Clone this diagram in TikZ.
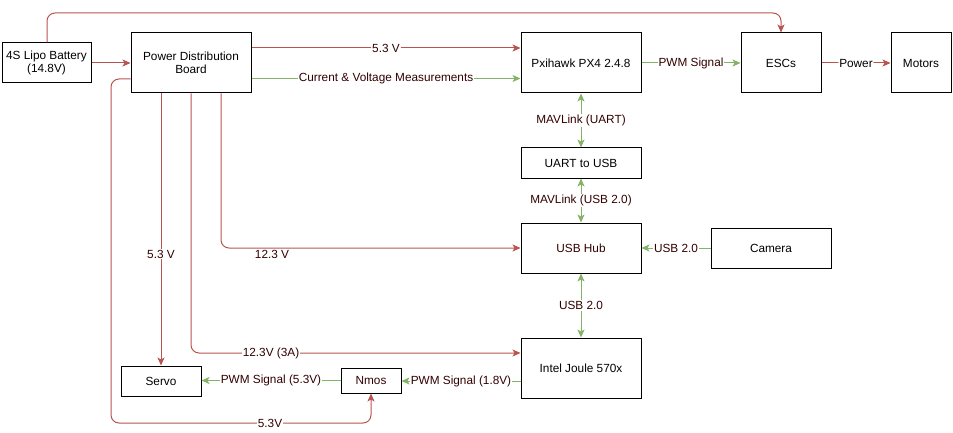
\documentclass[tikz,border=0pt]{standalone}
\usepackage{fontspec}
\setmainfont{Liberation Sans}
\usetikzlibrary{arrows.meta}
\definecolor{pred}{HTML}{B85450}
\definecolor{pgreen}{HTML}{82B366}
\definecolor{ltxt}{HTML}{330000}
\tikzset{
  box/.style={draw=black, line width=1pt, fill=white, minimum width=#1, align=center, inner sep=0pt, font=\fontsize{11.8}{13.5}\selectfont},
  redarr/.style={draw=pred, line width=1pt, rounded corners=8pt, -{Stealth[length=8pt,width=7pt,inset=2pt]}},
  greenarr/.style={draw=pgreen, line width=1pt, -{Stealth[length=8pt,width=7pt,inset=2pt]}},
  greendbl/.style={draw=pgreen, line width=1pt, {Stealth[length=8pt,width=7pt,inset=2pt]}-{Stealth[length=8pt,width=7pt,inset=2pt]}},
  lbl/.style={fill=white, text=ltxt, inner sep=1pt, font=\fontsize{11.8}{13.5}\selectfont}
}
\begin{document}
\begin{tikzpicture}[x=1pt,y=-1pt]
\useasboundingbox (0,0) rectangle (953,433);
% nodes
\node[box=89pt, minimum height=40pt] (bat) at (46.5,63) {4S Lipo Battery\\(14.8V)};
\node[box=120pt, minimum height=60pt] (pdb) at (191,63) {Power Distribution\\Board};
\node[box=120pt, minimum height=60pt] (px) at (581,63) {Pxihawk PX4 2.4.8};
\node[box=80pt, minimum height=60pt] (esc) at (781,63) {ESCs};
\node[box=60pt, minimum height=60pt] (mot) at (921,63) {Motors};
\node[box=120pt, minimum height=30pt] (uart) at (581,163) {UART to USB};
\node[box=120pt, minimum height=50pt, text=ltxt] (hub) at (581,248) {USB Hub};
\node[box=120pt, minimum height=40pt] (cam) at (771,248) {Camera};
\node[box=120pt, minimum height=60pt] (joule) at (581,368) {Intel Joule 570x};
\node[box=80pt, minimum height=30pt] (servo) at (161,381) {Servo};
\node[box=60pt, minimum height=25pt, text=ltxt] (nmos) at (371,380.5) {Nmos};
% connectors
\coordinate (bt1) at (47,13);
\coordinate (bt2) at (781,13);
\draw[redarr] ([xshift=0.5pt]bat.north) -- (bt1) -- (bt2) -- (esc.north);
\draw[redarr] (bat.east) -- (pdb.west);
\draw[redarr] ([yshift=15pt]pdb.east) -- node[lbl]{5.3 V} ([yshift=15pt]px.west);
\draw[greenarr] ([yshift=-15.5pt]pdb.east) -- node[lbl]{Current \& Voltage Measurements} ([yshift=-15.5pt]px.west);
\draw[greenarr] (px.east) -- node[lbl]{PWM Signal} (esc.west);
\draw[redarr] (esc.east) -- node[lbl, text=black]{Power} (mot.west);
\draw[greendbl] (px.south) -- node[lbl]{MAVLink (UART)} (uart.north);
\draw[greendbl] (uart.south) -- node[lbl]{MAVLink (USB 2.0)} (hub.north);
\draw[greenarr] (cam.west) -- node[lbl]{USB 2.0} (hub.east);
\draw[greendbl] (hub.south) -- node[lbl]{USB 2.0} (joule.north);
% power from PDB bottom
\draw[redarr] ([xshift=-30pt]pdb.south) -- (servo.north);
\node[lbl] (l53a) at (161,254) {5.3 V};
\draw[redarr] (pdb.south) |- ([yshift=15pt]joule.west);
\node[lbl] (l123b) at (271,353) {12.3V (3A)};
\draw[redarr] ([xshift=30pt]pdb.south) |- (hub.west);
\node[lbl] (l123a) at (272,254) {12.3 V};
\coordinate (pl1) at (111,79);
\coordinate (pl2) at (111,423);
\coordinate (pl3) at (371,423);
\draw[redarr] ([yshift=-16pt]pdb.west) -- (pl1) -- (pl2) -- (pl3) -- (nmos.south);
\node[lbl] (l53b) at (270,423) {5.3V};
\draw[greenarr] ([yshift=-13pt]joule.west) -- node[lbl]{PWM Signal (1.8V)} ([yshift=-0.5pt]nmos.east);
\draw[greenarr] (nmos.west) -- node[lbl]{PWM Signal (5.3V)} ([yshift=0.5pt]servo.east);
\end{tikzpicture}
\end{document}
